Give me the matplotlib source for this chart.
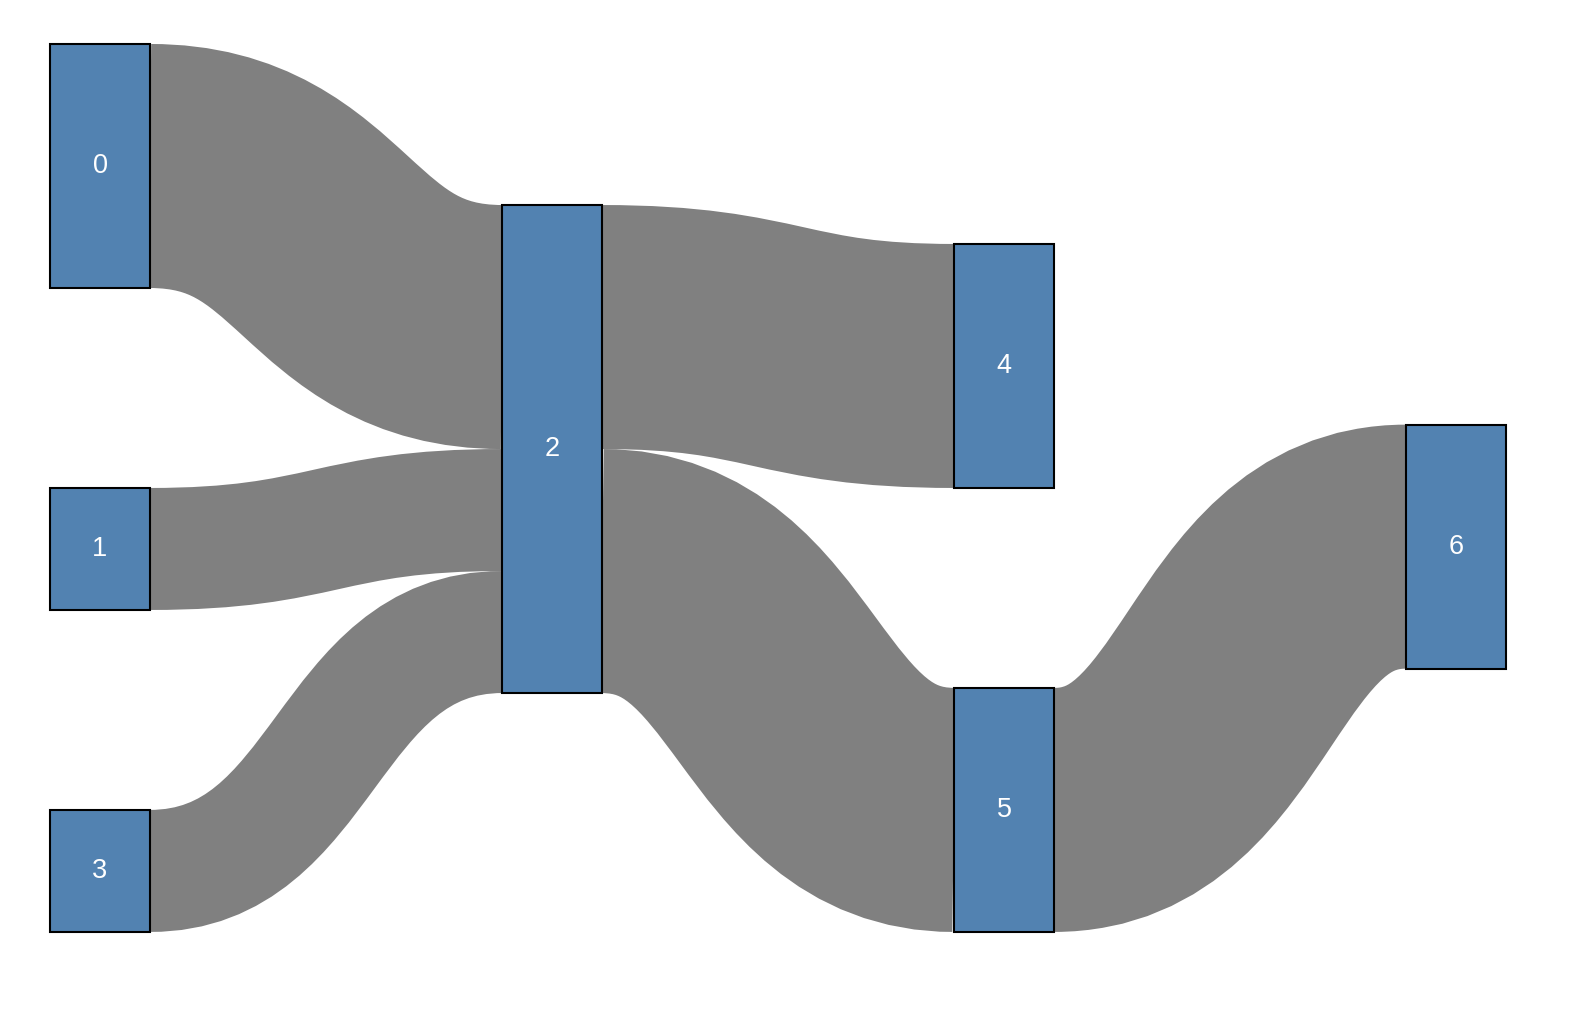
import numpy as np
import matplotlib
matplotlib.use("Agg")
import matplotlib.pyplot as plt
from matplotlib.path import Path
from matplotlib.patches import PathPatch, Rectangle

# ---- data ----
node_names = ["0", "1", "2", "3", "4", "5", "6"]
link_source = [0, 1, 3, 2, 2, 5]
link_target = [2, 2, 2, 4, 5, 6]
link_value = [2, 1, 1, 2, 2, 2]

# ---- layout (column index and top position in value units) ----
node_column = [0, 0, 1, 0, 2, 2, 3]
node_top = [0.0, 3.639, 1.32, 6.278, 1.639, 5.278, 3.12]

n = len(node_names)
vin = np.zeros(n); vout = np.zeros(n)
for s, t, v in zip(link_source, link_target, link_value):
    vout[s] += v; vin[t] += v
node_value = np.maximum(vin, vout)

W, H = 1580, 1024
DPI = 100
fig = plt.figure(figsize=(W / DPI, H / DPI), dpi=DPI)
ax = fig.add_axes([0, 0, 1, 1])
top_px, unit_px = 44.0, 122.0
ax.set_xlim(0, W)
ax.set_ylim((H - top_px) / unit_px, -top_px / unit_px)
ax.axis("off")

x0, col_step, node_w = 50.0, 452.0, 100.0
node_x = [x0 + c * col_step for c in node_column]

out_off = list(node_top)
in_off = list(node_top)
order = sorted(range(len(link_value)), key=lambda i: (link_source[i], node_top[link_target[i]]))
src_y = {}
for i in order:
    s = link_source[i]
    src_y[i] = out_off[s]; out_off[s] += link_value[i]
order_t = sorted(range(len(link_value)), key=lambda i: (link_target[i], node_top[link_source[i]]))
tgt_y = {}
for i in order_t:
    t = link_target[i]
    tgt_y[i] = in_off[t]; in_off[t] += link_value[i]

for i in range(len(link_value)):
    s, t, v = link_source[i], link_target[i], link_value[i]
    xa = node_x[s] + node_w
    xb = node_x[t]
    xm = (xa + xb) / 2
    ya = src_y[i] + v / 2
    yb = tgt_y[i] + v / 2
    verts = [(xa, ya), (xm, ya), (xm, yb), (xb, yb)]
    codes = [Path.MOVETO, Path.CURVE4, Path.CURVE4, Path.CURVE4]
    lw = v * unit_px * 72.0 / DPI
    ax.add_patch(PathPatch(Path(verts, codes), facecolor="none",
                           edgecolor="#808080", lw=lw, capstyle="butt", zorder=1))

for k in range(n):
    ax.add_patch(Rectangle((node_x[k], node_top[k]), node_w, node_value[k],
                           facecolor="#5282b1", edgecolor="black", lw=1.5, zorder=2))
    ax.text(node_x[k] + node_w / 2, node_top[k] + node_value[k] / 2, node_names[k],
            ha="center", va="center", color="white", fontsize=19.5,
            family="Liberation Sans", zorder=3)

fig.savefig("out.png", dpi=DPI)
